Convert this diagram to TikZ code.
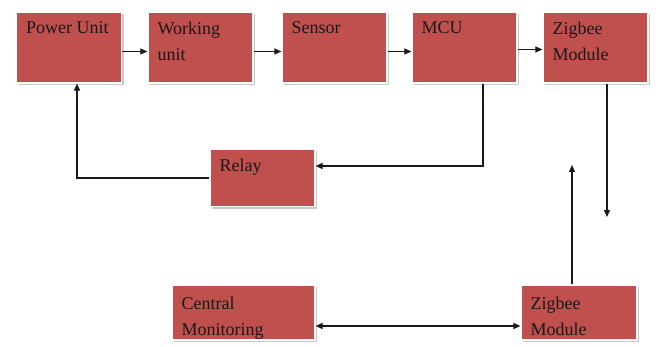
\documentclass[tikz,border=0pt]{standalone}
\usepackage{fontspec}
\setmainfont{Liberation Serif}
\usetikzlibrary{arrows.meta, shadows}
\definecolor{boxred}{RGB}{192,80,77}
\tikzset{>={Triangle[length=7pt,width=6pt]}}
\tikzset{
  block/.style={rectangle, fill=boxred, draw=white, line width=1.2pt,
    minimum width=105pt, minimum height=71pt,
    drop shadow={shadow xshift=2pt, shadow yshift=-2pt, fill=black!30, opacity=0.7}},
  blocktext/.style={anchor=north west, align=left, inner sep=0pt, xshift=10pt, yshift=-10pt,
    font=\fontsize{18}{26}\selectfont, text=black!90},
  link/.style={line width=1.1pt, black!90}
}

\begin{document}
\begin{tikzpicture}[x=1pt, y=-1pt]
\useasboundingbox (0,0) rectangle (660,347);

% top row
\node[block, label={[blocktext]north west:Power Unit}] (power) at (69,47.5) {};
\node[block, label={[blocktext]north west:Working\\unit}] (working) at (200.5,47.5) {};
\node[block, label={[blocktext]north west:Sensor}] (sensor) at (334.5,47.5) {};
\node[block, label={[blocktext]north west:MCU}] (mcu) at (464.5,47.5) {};
\node[block, label={[blocktext]north west:Zigbee\\Module}] (zigtop) at (595.5,47.5) {};

% relay
\node[block, minimum height=57pt, label={[blocktext]north west:Relay}] (relay) at (262.5,178) {};

% bottom row
\node[block, minimum width=143pt, minimum height=55pt, label={[blocktext, yshift=-2pt]north west:Central\\Monitoring}] (central) at (243.5,312.5) {};
\node[block, minimum width=116pt, minimum height=55pt, label={[blocktext, yshift=-2pt]north west:Zigbee\\Module}] (zigbot) at (579,312.5) {};

\coordinate (zigout) at (607,217);
\coordinate (zigin) at (572,165);

\draw[link, ->] ([yshift=-4pt]power.east) -- ([yshift=-4pt]working.west);
\draw[link, ->] ([yshift=-4pt]working.east) -- ([yshift=-4pt]sensor.west);
\draw[link, ->] ([yshift=-4pt]sensor.east) -- ([yshift=-4pt]mcu.west);
\draw[link, ->] ([yshift=-2pt]mcu.east) -- ([yshift=-2pt]zigtop.west);

\draw[link, ->] ([xshift=18.5pt]mcu.south) |- ([yshift=12pt]relay.east);
\draw[link, ->] (relay.west) -| ([xshift=8pt]power.south);

\draw[link, ->] ([xshift=11.5pt]zigtop.south) -- (zigout);
\draw[link, ->] ([xshift=-7pt]zigbot.north) -- (zigin);
\draw[link, <->] ([yshift=-13.5pt]central.east) -- ([yshift=-13.5pt]zigbot.west);
\end{tikzpicture}
\end{document}
